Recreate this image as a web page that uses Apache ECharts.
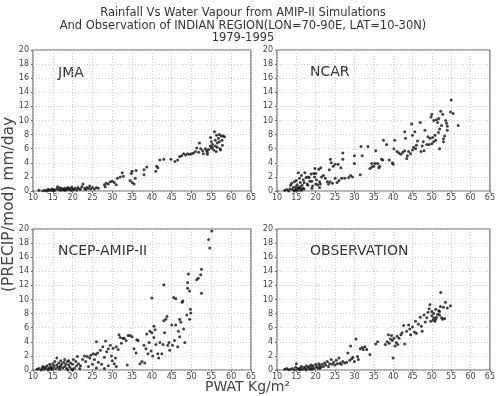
<!DOCTYPE html>
<html>
<head>
<meta charset="utf-8">
<script src="https://cdn.jsdelivr.net/npm/echarts@6/dist/echarts.min.js"></script>
<style>
  html, body { margin: 0; padding: 0; background: #fff; }
  #main { width: 498px; height: 396px; }
</style>
</head>
<body>
<div id="main"></div>
<script>
// panel names
const panelNames = ['JMA', 'NCAR', 'NCEP-AMIP-II', 'OBSERVATION'];

// PWAT (Kg/m2), PRECIP (mm/day) pairs
const jmaPoints = [
  [11.5,0.1],[12.5,0.05],[13,0.1],[13.5,0.0],[14,0.1],[14.5,0.15],[15,0.05],[15.2,0.2],[15.5,0.1],[16,0.3],
  [16.2,0.6],[16.5,0.2],[17,0.1],[17.3,0.35],[17.6,0.2],[18,0.4],[18.2,0.1],[18.5,0.3],[18.8,0.5],[19,0.2],
  [19.3,0.35],[19.6,0.1],[20,0.3],[20.3,0.2],[20.6,0.4],[21,0.15],[21.3,0.5],[21.6,0.3],[22,0.25],[22.3,0.6],
  [22.6,1.0],[23,0.4],[23.3,0.2],[23.6,0.5],[24,0.35],[24.3,0.7],[24.6,0.3],[25,0.5],[25.5,0.3],[26,0.5],
  [26.5,0.4],[13.8,0.25],[16.8,0.45],[19.8,0.55],[17.8,0.15],[14.8,0.3],
  [28,0.9],[28.2,0.6],[28.5,1.1],[29,1.0],[29.5,1.3],[30,1.4],[30.5,1.2],[31,0.9],[31.3,1.8],[32,2.0],
  [32.5,2.6],[32.8,2.1],[34.5,1.5],[35,2.8],[35,1.2],[35.5,1.0],[35.8,1.8],[36,2.9],[34.8,2.5],[38,2.3],
  [38,3.0],[38.7,3.4],[41,2.8],[41.2,3.5],[41.5,3.3],[42,4.4],[43,4.5],[44.8,4.5],[45.8,4.2],[46.5,4.4],
  [47,4.9],[47.5,5.0],[48,5.3],[48.5,5.1],[49,5.3],[49.5,5.2],[50,5.3],[50.5,5.4],[51,5.6],[51.3,6.1],
  [51.8,5.5],[52,6.8],[52.3,6.0],[52.8,5.7],[53,5.3],[53.5,6.0],[54,5.2],[54,5.5],[54.3,5.9],[54.7,6.4],
  [54.8,7.6],[55,6.1],[55,7.0],[55.3,6.6],[55.6,5.8],[55.8,8.4],[56,7.2],[56,6.4],[56.3,7.9],[56.5,6.8],
  [56.5,6.2],[56.8,7.5],[57,8.0],[57,7.0],[57.2,6.0],[57.3,5.8],[57.5,7.8],[57.7,7.2],[58,7.8],[58.3,7.7],
  [55.2,6.2],[56.2,5.6],[53.8,5.7],[57.8,6.5]
];

const ncarPoints = [
  [12,0.1],[12.5,0.2],[13,0.0],[13.3,0.3],[13.5,0.8],[13.8,1.1],[14,0.2],[14.2,0.5],[14.5,0.0],[14.5,1.3],
  [14.8,0.6],[15,0.3],[15,1.5],[15.2,0.9],[15.4,0.1],[15.5,2.6],[15.7,0.4],[15.8,1.8],[16,0.6],[16,1.2],
  [16.2,0.2],[16.3,2.2],[16.5,0.8],[16.7,0.4],[16.8,1.6],[17,0.3],[17.2,2.6],[17.5,1.9],[17.8,1.0],[18,2.0],
  [18,0.8],[18.3,1.9],[18.8,2.4],[19,1.4],[19.2,0.7],[19.5,2.5],[19.7,2.0],[19.8,3.2],[20,1.0],[20,2.5],
  [20.2,1.6],[20.5,0.9],[20.8,3.1],[21,1.3],[21,0.5],[21.3,3.3],[21.5,2.0],[21.2,1.0],[14.8,0.15],[16.3,0.1],
  [18.5,1.4],[17,1.2],[15.5,0.5],[19,0.4],
  [22,2.2],[22.5,1.8],[23,1.3],[23.3,1.0],[23.7,1.3],[23.8,4.5],[23.5,3.0],[24,4.0],[24.3,1.1],[24.5,3.5],
  [25,3.8],[25.5,1.2],[25,1.8],[25.8,3.8],[26,1.5],[26.5,3.3],[26.7,1.8],[27,4.5],[27,5.4],[27.5,1.8],
  [28.5,1.9],[29,2.2],[29.5,2.0],[30,3.9],[30,5.0],[31.5,2.3],[31.7,6.3],[32,5.0],[33.5,6.3],[34,3.2],
  [34.5,3.4],[34.5,3.9],[35,3.5],[35.3,3.9],[35.5,5.7],[36,3.9],[36.3,3.3],[36.5,3.5],[37,4.5],[37.3,4.4],
  [37.5,7.2],[38.3,6.6],[39,4.4],[39.8,4.0],[40,3.8],[40.2,6.0],[40.4,7.2],[41,5.6],[41.5,5.4],[42,5.2],
  [42.5,5.5],[43,5.7],[43,8.4],[43.2,7.5],[43.5,4.6],[43.7,5.0],[44,5.6],[44.5,5.3],[44.8,9.5],[45,7.9],
  [45,5.8],[45.3,6.2],[45.6,8.4],[45.8,6.0],[46,6.5],[46.3,7.1],[47,9.7],[47.2,5.6],[47.5,6.4],[47.8,7.0],
  [48,5.7],[48.2,8.6],[48.7,6.6],[49,7.7],[49.3,6.6],[49.5,7.5],[49.8,10.5],[50,10.9],[50,6.7],[50.2,7.6],
  [50.5,7.0],[50.8,7.9],[51,7.2],[51.2,10.1],[51.5,9.7],[51.7,8.3],[52,6.0],[52,8.8],[52.3,11.3],[52.5,9.3],
  [52.8,10.9],[53,7.4],[53,7.0],[53.3,7.8],[53.6,10.0],[53.8,9.6],[54,8.6],[54,9.2],[54.8,11.2],[55,12.9],
  [55.5,11.0],[56.8,9.3],[50.5,10.0],[51.8,10.3]
];

const ncepPoints = [
  [11,0.1],[11.5,0.2],[12,0.0],[12.3,0.3],[12.7,0.1],[13,0.4],[13.3,0.2],[13.5,0.6],[13.8,0.0],[14,0.3],
  [14.2,0.8],[14.5,0.5],[14.7,0.1],[15,0.9],[15,0.3],[15.3,0.6],[15.5,1.2],[15.7,0.2],[16,0.7],[16,1.7],
  [16.3,0.4],[16.5,1.0],[16.7,0.1],[17,0.6],[17,1.3],[17.3,0.9],[17.5,0.3],[17.8,1.1],[18,0.5],[18,1.5],
  [18.3,0.8],[18.5,0.2],[18.7,1.2],[19,0.7],[19,1.3],[19.3,0.4],[19.5,1.0],[19.8,0.1],[20,0.8],[20.2,1.5],
  [20.5,0.3],[20.8,1.2],[21,0.6],[21.2,1.9],[21.5,0.9],[21.8,0.2],[20,0.05],[12.5,0.5],[14.5,0.2],[16.8,0.4],
  [18.8,0.0],[22,0.6],
  [22.5,1.5],[23,2.0],[23.3,1.2],[23.7,1.9],[24,0.5],[24.3,1.7],[24.6,2.1],[25,0.8],[25.2,2.3],[25.5,1.5],
  [25.8,2.2],[26,0.3],[26,4.0],[26.3,2.4],[26.5,1.1],[27,2.8],[27.3,0.8],[27.6,3.3],[28,1.8],[28,0.2],
  [28.3,4.1],[28.6,2.6],[29,3.0],[29,0.6],[29.5,3.5],[29.8,2.0],[30,1.3],[30.2,3.1],[30.5,0.9],[30.8,1.7],
  [31,3.3],[31,0.5],[31.5,2.9],[31.7,5.0],[32,4.6],[32.3,3.8],[32.7,4.5],[33,4.5],[33.5,4.2],[33.8,0.7],
  [34,4.9],[34.5,4.9],[35,4.7],[35.5,3.0],[36,2.4],[36.2,4.3],[36.5,4.2],[37,0.9],[37.5,1.2],[38,3.5],
  [38.2,1.0],[38.5,3.0],[38.7,5.1],[39,2.3],[39.3,3.9],[39.5,5.5],[39.8,2.7],[40,5.3],[40,10.2],[40.2,2.0],
  [40.5,6.2],[40.5,4.6],[40.8,5.7],[41,3.6],[41.5,2.3],[41.7,1.7],[42,3.9],[42.5,2.3],[42.8,3.6],[43,7.0],
  [43,12.1],[43.2,5.3],[43.5,7.2],[43.8,7.6],[44,3.5],[44.3,3.9],[44.5,2.8],[45,6.4],[45.2,3.5],[45.5,10.3],
  [45.7,4.2],[46,6.4],[46,10.1],[46.5,3.3],[46.7,5.5],[47,7.2],[47,4.7],[47.3,6.8],[47.6,9.6],[47.8,9.8],
  [48,5.8],[48.3,3.9],[48.8,7.8],[49,12.4],[49,11.6],[49.2,13.6],[49.5,11.2],[49.5,7.2],[49.7,8.6],[49.8,8.1],
  [51.3,12.8],[51.7,13.0],[52.3,13.5],[52.5,14.3],[52.5,10.9],[54.3,18.5],[54.6,17.3],[55.1,19.7]
];

const obsPoints = [
  [12,0.1],[12.5,0.2],[13,0.05],[13.5,0.1],[14,0.2],[14.5,0.0],[14.8,0.4],[15,0.9],[15.3,0.2],[15.6,0.1],
  [16,0.3],[16.3,0.5],[16.6,0.1],[17,0.4],[17.3,0.2],[17.6,0.6],[18,0.3],[18.3,0.5],[18.5,0.1],[18.8,0.7],
  [19,0.4],[19.3,0.6],[19.6,0.2],[20,0.8],[20.2,0.5],[20.5,0.3],[20.8,0.9],[21,0.6],[21.3,0.4],[21.6,0.8],
  [22,0.5],[22.3,1.0],[22.6,0.7],[23,1.2],[23.3,0.5],[23.6,0.9],[24,1.5],[24.3,0.8],[24.6,1.1],[25,0.7],
  [25.3,1.4],[25.6,0.9],[26,1.7],[26.3,1.0],[26.6,0.8],[27,1.2],[27.5,1.0],[28,1.1],[16,0.05],[19,0.1],
  [21,0.2],[17.5,0.0],
  [28.3,2.4],[28.8,1.4],[29,3.4],[29.3,1.6],[29.6,1.8],[30,1.2],[30.4,4.4],[30.8,1.9],[31,1.5],[31.5,3.0],
  [32,3.2],[32.3,2.9],[32.7,3.3],[33.2,2.9],[34,2.2],[35.5,3.7],[36,4.0],[38,3.6],[38.5,4.0],[38.8,5.0],
  [39,3.8],[39.3,4.4],[39.6,4.9],[39.8,4.2],[40,1.7],[40.2,4.5],[40.5,3.4],[40.8,3.9],[41,4.8],[41.2,3.6],
  [41.5,4.5],[42,5.0],[42.3,5.3],[42.7,6.3],[43,3.7],[43.5,5.5],[44,6.4],[44.3,5.8],[44.5,5.0],[45,6.1],
  [45.5,5.4],[45.8,6.9],[46,5.2],[46.5,6.5],[47,7.5],[47.3,6.2],[47.5,5.5],[48,7.8],[48.3,6.8],[48.7,7.4],
  [49,8.2],[49.3,8.7],[49.5,9.3],[49.7,6.9],[50,7.7],[50,8.3],[50.3,7.1],[50.5,8.0],[50.8,6.9],[51,8.6],
  [51.2,7.5],[51.5,7.9],[51.8,8.4],[52,7.8],[52.2,9.0],[52.3,11.0],[52.5,7.4],[52.8,7.2],[53,8.9],[53.3,7.3],
  [53.5,9.6],[54,8.8],[54.8,9.1],[51,7.2],[50.5,7.4],[52,8.3]
];

const allPoints = [jmaPoints, ncarPoints, ncepPoints, obsPoints];

// axis ranges
const xMin = 10, xMax = 65, xStep = 5;
const yMin = 0, yMax = 20, yStep = 2;

const FONT = '"DejaVu Sans", sans-serif';

// panel boxes (left, top)
const boxes = [
  { left: 33, top: 50 },
  { left: 277, top: 50 },
  { left: 33, top: 229 },
  { left: 277, top: 229 }
];
const boxW = 218, boxH = 141;

const grid = boxes.map(b => ({
  left: b.left, top: b.top, width: boxW, height: boxH,
  show: true, borderColor: '#666', borderWidth: 1.2, backgroundColor: '#fff'
}));

const xAxis = boxes.map((b, i) => ({
  type: 'value', gridIndex: i, min: xMin, max: xMax, interval: xStep,
  axisLine: { show: false },
  axisTick: { show: true, length: 2, lineStyle: { color: '#666' } },
  axisLabel: { fontSize: 8, color: '#444', fontFamily: FONT, margin: 3 },
  splitLine: { show: true, lineStyle: { color: '#d0d0d0', type: [1, 2], width: 1 } }
}));

const yAxis = boxes.map((b, i) => ({
  type: 'value', gridIndex: i, min: yMin, max: yMax, interval: yStep,
  axisLine: { show: false },
  axisTick: { show: true, length: 2, lineStyle: { color: '#666' } },
  axisLabel: { fontSize: 8, color: '#444', fontFamily: FONT, margin: 4 },
  splitLine: { show: true, lineStyle: { color: '#d0d0d0', type: [1, 2], width: 1 } }
}));

const series = allPoints.map((pts, i) => ({
  type: 'scatter', xAxisIndex: i, yAxisIndex: i,
  data: pts, symbol: 'circle', symbolSize: 3,
  itemStyle: { color: '#111' }, silent: true
}));

// text labels
const textStyle = (size) => ({ fontSize: size, fill: '#333', fontFamily: FONT });
const graphic = [
  {
    type: 'text', x: 243, y: 7,
    style: Object.assign(textStyle(11.5), {
      text: 'Rainfall Vs Water Vapour from AMIP-II Simulations\nAnd Observation of INDIAN REGION(LON=70-90E, LAT=10-30N)\n1979-1995',
      textAlign: 'center', lineHeight: 12.5
    })
  },
  {
    type: 'text', x: 1, y: 292, rotation: Math.PI / 2,
    style: Object.assign(textStyle(15.5), { text: '(PRECIP/mod) mm/day', fill: '#444' })
  },
  {
    type: 'text', x: 205, y: 380,
    style: Object.assign(textStyle(14), { text: 'PWAT Kg/m²', fill: '#444' })
  }
];
const labelPos = [[58, 66], [310, 65], [58, 244], [310, 244]];
panelNames.forEach((name, i) => {
  graphic.push({
    type: 'text', x: labelPos[i][0], y: labelPos[i][1],
    style: Object.assign(textStyle(14), { text: name, fill: '#333' })
  });
});

const chart = echarts.init(document.getElementById('main'));
chart.setOption({
  backgroundColor: '#fff',
  animation: false,
  grid: grid,
  xAxis: xAxis,
  yAxis: yAxis,
  series: series,
  graphic: graphic
});
</script>
</body>
</html>
